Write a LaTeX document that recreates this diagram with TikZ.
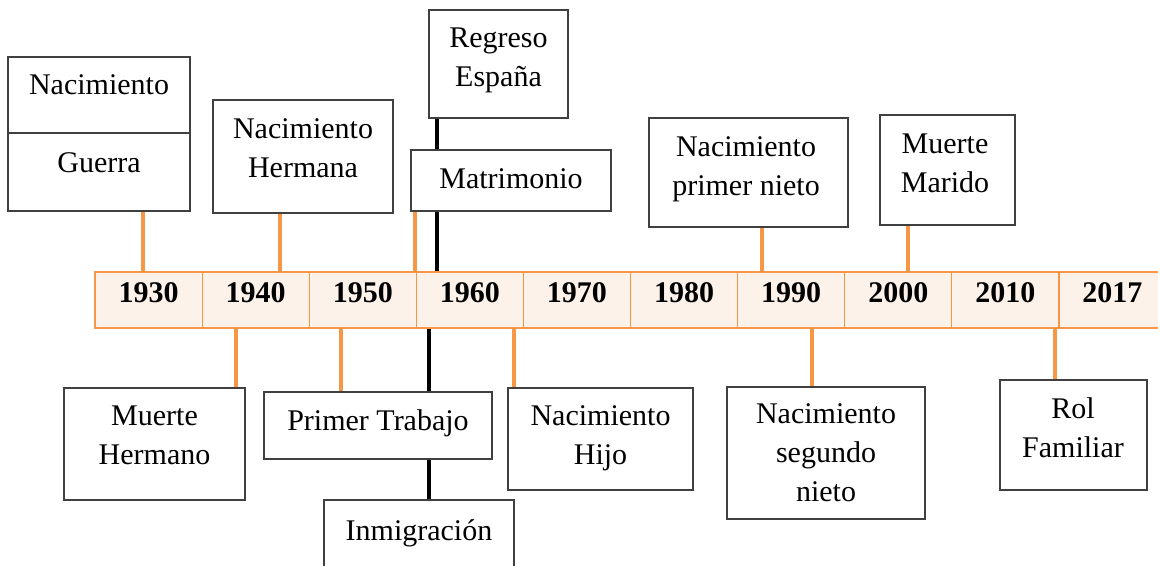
\documentclass[tikz,border=0pt]{standalone}
\usepackage{fontspec}
\setmainfont{Liberation Serif}
\definecolor{orng}{HTML}{F79646}
\definecolor{peach}{HTML}{FDF2E9}
\definecolor{boxgray}{HTML}{404040}
\newcommand\evbox[5]{\node[evb, minimum width={(#4-#2)*1pt}, minimum height={(#5-#3)*1pt}] (#1) at ({(#2+#4)/2},{(#3+#5)/2}) {};}
\newcommand\evtxt[4]{\node[txt] (#1) at (#2,#3) {#4};}
\tikzset{
  evb/.style={rectangle, draw=boxgray, line width=1.6pt, fill=white, inner sep=0pt},
  cell/.style={rectangle, draw=orng, line width=1.2pt, fill=peach, inner sep=0pt, minimum width=107.1pt, minimum height=56pt},
  yr/.style={font=\fontsize{30}{36}\selectfont\bfseries, inner sep=0pt},
  txt/.style={font=\fontsize{30}{39}\selectfont, align=center, inner sep=0pt},
  oline/.style={draw=orng, line width=3.5pt},
  kline/.style={draw=black, line width=4pt}
}
\begin{document}
\begin{tikzpicture}[x=1pt,y=-1pt]
\clip (0,0) rectangle (1158,565);
\fill[white] (0,0) rectangle (1158,565);
% timeline cells
\foreach \yy [count=\k from 0] in {1930,1940,1950,1960,1970,1980,1990,2000,2010,2017}{
  \node[cell] (y\yy) at ({95+107.1*(\k+0.5)},300) {};
  \node[yr] (l\yy) at ({95+107.1*(\k+0.5)},293) {\yy};
}
% x positions of connectors
\coordinate (xa) at (143,0);
\coordinate (xb) at (280,0);
\coordinate (xd) at (415,0);
\coordinate (xc) at (437,0);
\coordinate (xe) at (762,0);
\coordinate (xf) at (908,0);
\coordinate (xg) at (236,0);
\coordinate (xh) at (341,0);
\coordinate (xi) at (429,0);
\coordinate (xj) at (514,0);
\coordinate (xk) at (812,0);
\coordinate (xl) at (1055,0);
% boxes
\evbox{A1}{8}{57}{190}{133}
\evbox{A2}{8}{133}{190}{211}
\evbox{B}{213}{100}{393}{213}
\evbox{C}{429}{10}{568}{118}
\evbox{E}{649}{118}{848}{227}
\evbox{F}{880}{115}{1015}{225}
\evbox{G}{64}{388}{245}{500}
\evbox{J}{508}{388}{693}{490}
\evbox{K}{727}{387}{925}{519}
\evbox{L}{1000}{380}{1147}{490}
\evbox{I}{324}{500}{514}{580}
% connectors
\draw[oline] (A2.south -| xa) -- (y1930.north -| xa);
\draw[oline] (B.south -| xb) -- (y1940.north -| xb);
\draw[kline] (C.south -| xc) -- (y1960.north -| xc);
\draw[oline] (E.south -| xe) -- (y1990.north -| xe);
\draw[oline] (F.south -| xf) -- (y2000.north -| xf);
\draw[oline] (y1940.south -| xg) -- (G.north -| xg);
\draw[kline] (y1960.south -| xi) -- (I.north -| xi);
\draw[oline] (y1960.south -| xj) -- (J.north -| xj);
\draw[oline] (y1990.south -| xk) -- (K.north -| xk);
\draw[oline] (y2010.south -| xl) -- (L.north -| xl);
% boxes drawn over the black lines
\evbox{D}{411}{150}{611}{211}
\draw[oline] (D.south -| xd) -- (y1950.north -| xd);
\evbox{H}{264}{392}{492}{459}
\draw[oline] (y1950.south -| xh) -- (H.north -| xh);
% texts
\evtxt{tA1}{99}{85}{Nacimiento}
\evtxt{tA2}{99}{163}{Guerra}
\evtxt{tB}{303}{148.5}{Nacimiento\\Hermana}
\evtxt{tC}{498.5}{60}{Regreso\\España}
\evtxt{tD}{511}{179}{Matrimonio}
\evtxt{tE}{746}{169}{Nacimiento\\primer nieto}
\evtxt{tF}{945}{163.5}{Muerte\\Marido}
\evtxt{tG}{154.5}{435.5}{Muerte\\Hermano}
\evtxt{tH}{378}{423}{Primer Trabajo}
\evtxt{tI}{419}{533}{Inmigración}
\evtxt{tJ}{600.5}{438}{Nacimiento\\Hijo}
\evtxt{tK}{826}{453}{Nacimiento\\segundo\\nieto}
\evtxt{tL}{1073}{428}{Rol\\Familiar}
\end{tikzpicture}
\end{document}
